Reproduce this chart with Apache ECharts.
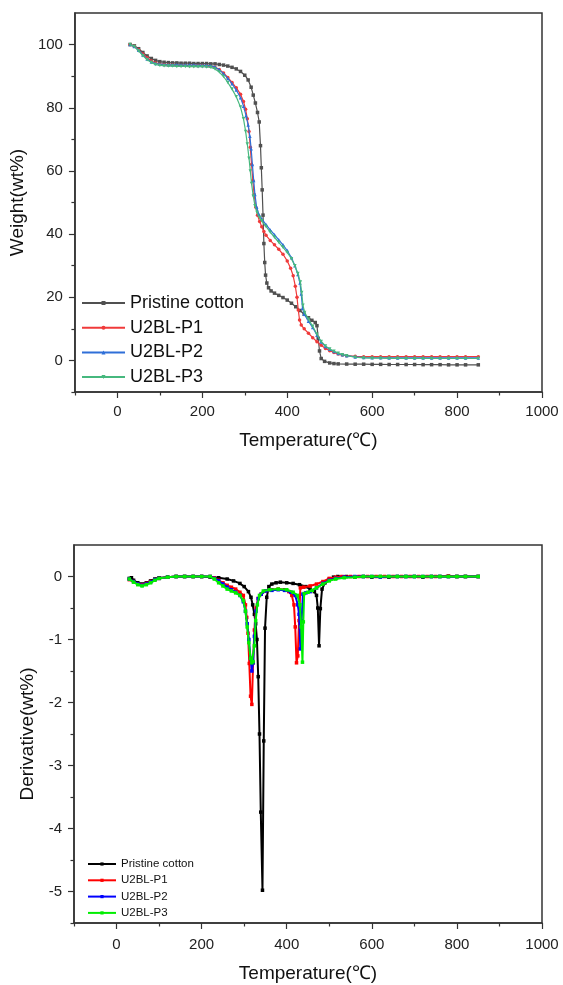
<!DOCTYPE html>
<html>
<head>
<meta charset="utf-8">
<script src="https://cdn.jsdelivr.net/npm/echarts@6/dist/echarts.min.js"></script>
<style>
  html, body { margin: 0; padding: 0; background: #fff; }
  #chart { width: 563px; height: 985px; }
</style>
</head>
<body>
<div id="chart"></div>
<script>
// Series names and colours
const seriesNames = ["Pristine cotton", "U2BL-P1", "U2BL-P2", "U2BL-P3"];
const tgaColors = ["#505050", "#f03a3a", "#2f6fd8", "#46b87e"];
const dtgColors = ["#000000", "#ff0000", "#0000ff", "#00ee00"];
const tgaSymbols = ["rect", "circle", "triangle", "triangle"];

// Tick positions
const tempTicks = [0, 200, 400, 600, 800, 1000];
const tempMinor = [-100, 100, 300, 500, 700, 900];
const weightTicks = [0, 20, 40, 60, 80, 100];
const weightMinor = [-10, 10, 30, 50, 70, 90];
const derivTicks = [-5, -4, -3, -2, -1, 0];
const derivMinor = [-5.5, -4.5, -3.5, -2.5, -1.5, -0.5];

// TGA curves: [temperature, weight %]
const pristineTGA = [[30,100],[40,99.6],[50,98.7],[60,97.5],[70,96.4],[80,95.6],[90,95.0],[100,94.6],[110,94.4],[120,94.3],[130,94.2],[140,94.2],[150,94.1],[160,94.1],[170,94.1],[180,94.0],[190,94.0],[200,94.0],[210,94.0],[220,93.9],[230,93.9],[240,93.7],[250,93.5],[260,93.2],[270,92.8],[280,92.3],[290,91.5],[300,90.3],[308,88.8],[315,86.5],[320,84],[325,81.5],[330,78.5],[334,75.5],[337,68],[339,61],[341,54],[343,46],[345,37],[347,31],[349,27],[352,24.5],[356,23],[362,22],[370,21.3],[380,20.6],[390,19.9],[400,19.1],[410,18.1],[420,17],[430,15.8],[440,14.6],[450,13.5],[458,12.7],[466,12],[470,11],[473,7],[476,3],[480,0.6],[488,-0.3],[500,-0.8],[510,-1.0],[520,-1.1],[540,-1.15],[560,-1.2],[580,-1.2],[600,-1.25],[620,-1.25],[640,-1.3],[660,-1.3],[680,-1.3],[700,-1.3],[720,-1.35],[740,-1.35],[760,-1.35],[780,-1.4],[800,-1.4],[820,-1.4],[850,-1.4]];
const p1TGA = [[30,100],[40,99.5],[50,98.4],[60,97.0],[70,95.8],[80,94.8],[90,94.2],[100,93.8],[110,93.6],[120,93.5],[130,93.5],[140,93.4],[150,93.4],[160,93.4],[170,93.3],[180,93.3],[190,93.3],[200,93.3],[210,93.2],[220,93.1],[230,92.8],[240,92.1],[250,91.0],[260,89.6],[270,88.0],[280,86.3],[290,84.3],[297,82],[302,79.5],[306,76.5],[310,72.5],[313,67.5],[316,62],[319,57],[322,52.5],[326,48.5],[330,46],[335,44],[340,42.3],[345,40.8],[350,39.6],[360,38],[370,36.6],[380,35.2],[390,33.6],[400,31.5],[408,29.2],[414,26.8],[419,23.5],[423,20],[426,16],[429,12.8],[433,11.2],[440,10.0],[450,8.6],[460,7.2],[470,5.9],[480,4.8],[490,3.8],[500,3.1],[510,2.5],[520,2.0],[530,1.7],[540,1.5],[560,1.3],[580,1.2],[600,1.2],[620,1.2],[640,1.2],[660,1.2],[680,1.2],[700,1.2],[720,1.2],[740,1.2],[760,1.2],[780,1.2],[800,1.2],[820,1.2],[850,1.2]];
const p2TGA = [[30,100],[40,99.4],[50,98.2],[60,96.7],[70,95.4],[80,94.5],[90,94.0],[100,93.8],[110,93.7],[120,93.6],[130,93.6],[140,93.6],[150,93.5],[160,93.5],[170,93.5],[180,93.5],[190,93.4],[200,93.4],[210,93.4],[220,93.3],[230,92.9],[240,92.0],[250,90.8],[260,89.3],[270,87.6],[280,85.6],[290,83.2],[297,80.5],[303,77.5],[308,74.5],[312,71],[315,67],[318,62],[321,57],[324,52.5],[328,48.5],[333,46.3],[340,44.8],[350,43],[360,41.3],[370,39.8],[380,38.2],[390,36.6],[400,34.8],[410,32.5],[418,30],[425,27.2],[430,24.5],[433,21],[436,16.5],[440,14.6],[450,12.4],[460,10.4],[470,8.0],[480,5.8],[490,4.4],[500,3.5],[510,2.8],[520,2.2],[530,1.8],[540,1.5],[560,1.1],[580,0.9],[600,0.85],[620,0.85],[640,0.8],[660,0.8],[680,0.8],[700,0.8],[720,0.8],[740,0.8],[760,0.8],[780,0.8],[800,0.8],[820,0.8],[850,0.8]];
const p3TGA = [[30,100],[40,99.4],[50,98.0],[60,96.5],[70,95.2],[80,94.3],[90,93.7],[100,93.4],[110,93.3],[120,93.2],[130,93.2],[140,93.1],[150,93.1],[160,93.1],[170,93.0],[180,93.0],[190,93.0],[200,93.0],[210,92.9],[220,92.8],[230,92.3],[240,91.3],[250,89.9],[260,88.0],[270,85.9],[280,83.5],[290,80.2],[297,76.5],[302,72.5],[306,68.5],[310,64],[313,60],[316,56],[320,52],[324,49],[329,46.8],[335,45.2],[340,44.2],[350,42.4],[360,40.6],[370,39],[380,37.4],[390,35.8],[400,34.2],[410,32.2],[418,30],[425,27.5],[431,24.8],[434,21.5],[437,17.5],[441,15.2],[450,13],[460,10.8],[470,8.3],[480,6.0],[490,4.6],[500,3.6],[510,2.9],[520,2.3],[530,1.8],[540,1.5],[560,1.0],[580,0.8],[600,0.7],[620,0.7],[640,0.65],[660,0.65],[680,0.6],[700,0.6],[720,0.6],[740,0.6],[760,0.6],[780,0.6],[800,0.6],[820,0.6],[850,0.6]];

// DTG curves: [temperature, derivative]
const pristineDTG = [[30,-0.03],[35,-0.02],[40,-0.06],[50,-0.1],[60,-0.12],[70,-0.1],[80,-0.07],[90,-0.04],[100,-0.02],[120,-0.01],[140,0],[160,0],[180,0],[200,0],[220,-0.01],[240,-0.02],[260,-0.04],[275,-0.07],[290,-0.11],[300,-0.16],[310,-0.24],[316,-0.33],[320,-0.45],[324,-0.6],[327,-0.75],[330,-1.0],[333,-1.59],[336,-2.5],[339,-3.74],[343,-4.98],[346,-2.61],[349,-0.82],[353,-0.33],[358,-0.16],[365,-0.12],[375,-0.1],[385,-0.09],[400,-0.1],[415,-0.11],[430,-0.13],[445,-0.16],[455,-0.2],[465,-0.24],[470,-0.3],[473,-0.5],[476,-1.1],[479,-0.51],[483,-0.2],[490,-0.1],[500,-0.04],[510,-0.01],[520,0],[540,0],[560,-0.01],[580,0],[600,-0.01],[620,0],[640,-0.01],[660,0],[680,0],[700,0],[720,-0.01],[740,0],[760,0],[780,0],[800,0],[820,0],[850,0]];
const p1DTG = [[30,-0.05],[40,-0.08],[50,-0.12],[60,-0.13],[70,-0.11],[80,-0.08],[90,-0.05],[100,-0.03],[120,-0.01],[140,0],[160,0],[180,0],[200,0],[220,0],[230,-0.02],[240,-0.06],[250,-0.1],[260,-0.14],[270,-0.17],[280,-0.2],[290,-0.25],[298,-0.3],[303,-0.45],[306,-0.65],[309,-0.9],[312,-1.38],[315,-1.9],[318,-2.03],[321,-1.37],[324,-0.85],[328,-0.5],[333,-0.35],[340,-0.28],[350,-0.23],[365,-0.21],[380,-0.2],[395,-0.21],[405,-0.24],[412,-0.3],[417,-0.45],[420,-0.8],[423,-1.37],[426,-1.26],[429,-0.7],[432,-0.18],[440,-0.17],[455,-0.15],[470,-0.12],[485,-0.08],[500,-0.03],[515,-0.01],[530,0],[550,0],[570,0],[590,0],[610,0],[630,0],[650,0],[670,0],[690,0],[710,0],[730,0],[750,0],[780,0.01],[800,0],[820,0],[850,0]];
const p2DTG = [[30,-0.04],[40,-0.08],[50,-0.12],[60,-0.14],[70,-0.12],[80,-0.09],[90,-0.05],[100,-0.03],[120,-0.01],[140,0],[160,0],[180,0],[200,0],[220,0],[230,-0.03],[240,-0.07],[250,-0.12],[260,-0.17],[270,-0.21],[280,-0.25],[290,-0.3],[298,-0.4],[303,-0.55],[307,-0.75],[311,-1.0],[315,-1.3],[318,-1.5],[321,-1.37],[324,-0.95],[328,-0.55],[333,-0.35],[340,-0.28],[350,-0.23],[365,-0.22],[380,-0.21],[395,-0.22],[410,-0.25],[420,-0.3],[426,-0.45],[429,-0.6],[432,-1.15],[435,-0.7],[438,-0.28],[445,-0.26],[455,-0.24],[470,-0.18],[485,-0.11],[500,-0.06],[515,-0.03],[535,-0.01],[560,0],[580,0],[600,0],[620,-0.01],[640,0],[660,0],[680,0],[700,0],[720,0],[740,0],[760,0],[780,0],[800,0],[820,0],[850,0]];
const p3DTG = [[30,-0.04],[40,-0.09],[50,-0.13],[60,-0.15],[70,-0.13],[80,-0.1],[90,-0.06],[100,-0.03],[120,-0.01],[140,0],[160,0],[180,0],[200,0],[220,0],[230,-0.04],[240,-0.1],[250,-0.15],[260,-0.2],[270,-0.23],[280,-0.26],[290,-0.3],[298,-0.38],[303,-0.55],[307,-0.8],[311,-1.05],[315,-1.3],[318,-1.37],[321,-1.35],[324,-1.1],[327,-0.7],[331,-0.45],[336,-0.3],[345,-0.23],[360,-0.21],[380,-0.2],[400,-0.21],[415,-0.25],[425,-0.3],[431,-0.45],[434,-0.8],[437,-1.36],[439,-0.72],[441,-0.27],[450,-0.25],[460,-0.22],[470,-0.18],[485,-0.12],[500,-0.07],[515,-0.04],[535,-0.02],[560,-0.01],[580,0],[600,0],[620,0],[640,0],[660,0],[680,0],[700,0],[720,0],[740,0],[760,0],[780,0],[800,0],[820,0],[850,0]];

const tgaData = [pristineTGA, p1TGA, p2TGA, p3TGA];
const dtgData = [pristineDTG, p1DTG, p2DTG, p3DTG];

const font = "Liberation Sans, Arial, sans-serif";
const axisColor = "#333";

// Main axis with labelled ticks
function mainAxis(gridIndex, min, max, ticks, name, nameGap, margin, position) {
  return {
    type: "value", gridIndex, min, max, name, nameGap, position,
    nameLocation: "middle",
    nameTextStyle: { fontFamily: font, fontSize: 19, color: "#111" },
    splitLine: { show: false },
    axisLine: { show: true, onZero: false, lineStyle: { color: axisColor, width: 1.5 } },
    axisTick: { show: true, customValues: ticks, length: 6, lineStyle: { color: axisColor, width: 1.2 } },
    axisLabel: { customValues: ticks, margin, formatter: v => String(v), fontFamily: font, fontSize: 15, color: "#222" },
  };
}

// Overlay axis carrying only the short in-between ticks
function minorAxis(gridIndex, min, max, ticks, position) {
  return {
    type: "value", gridIndex, min, max, position,
    splitLine: { show: false },
    axisLine: { show: false, onZero: false },
    axisLabel: { show: false },
    axisTick: { show: true, customValues: ticks, length: 3.5, lineStyle: { color: axisColor, width: 1.2 } },
  };
}

const series = [];
seriesNames.forEach((name, i) => {
  series.push({
    type: "line", name, xAxisIndex: 0, yAxisIndex: 0,
    data: tgaData[i],
    symbol: tgaSymbols[i], symbolSize: 3.5, symbolRotate: i === 3 ? 180 : 0,
    showAllSymbol: true,
    lineStyle: { color: tgaColors[i], width: 1.2 },
    itemStyle: { color: tgaColors[i] },
    z: 2 + i,
  });
});
seriesNames.forEach((name, i) => {
  series.push({
    type: "line", name: name + " ", xAxisIndex: 2, yAxisIndex: 2,
    data: dtgData[i],
    symbol: "rect", symbolSize: 3.5,
    showAllSymbol: true,
    lineStyle: { color: dtgColors[i], width: 2 },
    itemStyle: { color: dtgColors[i] },
    z: 2 + i,
  });
});

const chart = echarts.init(document.getElementById("chart"));
chart.setOption({
  animation: false,
  backgroundColor: "#fff",
  grid: [
    { left: 74, top: 13, width: 468, height: 379, show: true, borderColor: axisColor, borderWidth: 1.5 },
    { left: 74, top: 545, width: 468, height: 378, show: true, borderColor: axisColor, borderWidth: 1.5 },
  ],
  xAxis: [
    mainAxis(0, -100, 1000, tempTicks, "Temperature(℃)", 39, 12, "bottom"),
    minorAxis(0, -100, 1000, tempMinor, "bottom"),
    mainAxis(1, -100, 1000, tempTicks, "Temperature(℃)", 41, 14, "bottom"),
    minorAxis(1, -100, 1000, tempMinor, "bottom"),
  ],
  yAxis: [
    mainAxis(0, -10, 110, weightTicks, "Weight(wt%)", 43, 12, "left"),
    minorAxis(0, -10, 110, weightMinor, "left"),
    mainAxis(1, -5.5, 0.5, derivTicks, "Derivative(wt%)", 32, 12, "left"),
    minorAxis(1, -5.5, 0.5, derivMinor, "left"),
  ],
  legend: [
    {
      data: seriesNames, orient: "vertical", left: 81, top: 294, padding: 0,
      itemWidth: 43, itemHeight: 5, itemGap: 6.7, selectedMode: false,
      textStyle: { fontFamily: font, fontSize: 18, color: "#111" },
    },
    {
      data: seriesNames.map(n => n + " "), orient: "vertical", left: 87, top: 858, padding: 0,
      itemWidth: 28, itemHeight: 4, itemGap: 4.3, selectedMode: false,
      formatter: n => n.trim(),
      textStyle: { fontFamily: font, fontSize: 11.5, color: "#111" },
    },
  ],
  series,
});
</script>
</body>
</html>
